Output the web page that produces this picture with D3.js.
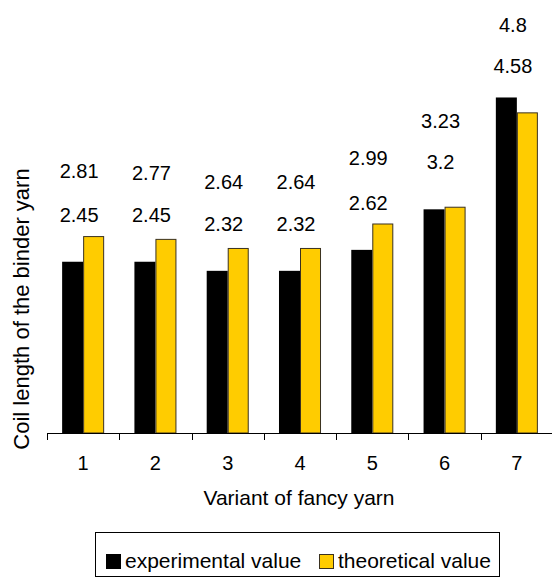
<!DOCTYPE html>
<html>
<head>
<meta charset="utf-8">
<script src="https://cdn.jsdelivr.net/npm/d3@7"></script>
<style>
  body { margin: 0; background: #fff; }
  text { font-family: "Liberation Sans", Arial, sans-serif; fill: #000; }
</style>
</head>
<body>
<script>
var w = 552;
var h = 578;

// data
var variants = ["1", "2", "3", "4", "5", "6", "7"];
var experimental = [2.45, 2.45, 2.32, 2.32, 2.62, 3.2, 4.8];
var theoretical = [2.81, 2.77, 2.64, 2.64, 2.99, 3.23, 4.58];
var seriesNames = ["experimental value", "theoretical value"];
var seriesColors = ["#000000", "#FFCC00"];

var svg = d3.select("body")
  .append("svg")
  .attr("width", w)
  .attr("height", h);

var x = d3.scaleBand()
  .domain(variants)
  .range([47, 553]);

var xs = d3.scaleBand()
  .domain([0, 1])
  .range([0, x.bandwidth()])
  .paddingOuter(0.72);

var y = d3.scaleLinear()
  .domain([0, 6])
  .range([433, 433 - 6 * 69.9]);

var groups = variants.map(function(v, i) {
  return { name: v, values: [experimental[i], theoretical[i]] };
});

var g = svg.selectAll("g.group")
  .data(groups)
  .enter().append("g")
  .attr("class", "group")
  .attr("transform", function(d) { return "translate(" + x(d.name) + ",0)"; });

g.selectAll("rect")
  .data(function(d) { return d.values; })
  .enter().append("rect")
  .attr("x", function(d, i) { return xs(i) + (i ? 0.5 : 0); })
  .attr("y", function(d) { return y(d); })
  .attr("width", function(d, i) { return xs.bandwidth() - (i ? 1 : 0); })
  .attr("height", function(d) { return y(0) - y(d); })
  .attr("fill", function(d, i) { return seriesColors[i]; })
  .attr("stroke", function(d, i) { return i ? "#3a3120" : "none"; })
  .attr("stroke-width", 1);

// data labels stacked above each pair: smaller value lower, larger value higher
function lowerY(d) { return y(d3.min(d.values)) - 47; }
function upperY(d) { return Math.min(y(d3.max(d.values)) - 66, lowerY(d) - 41); }

g.append("text")
  .attr("x", x.bandwidth() / 2 - 4)
  .attr("y", lowerY)
  .attr("dy", "0.35em")
  .attr("text-anchor", "middle")
  .attr("font-size", 20)
  .text(function(d) { return d3.min(d.values); });

g.append("text")
  .attr("x", x.bandwidth() / 2 - 4)
  .attr("y", upperY)
  .attr("dy", "0.35em")
  .attr("text-anchor", "middle")
  .attr("font-size", 20)
  .text(function(d) { return d3.max(d.values); });

// x axis: ticks sit between categories
var axis = svg.append("g").attr("class", "axis");
axis.append("line")
  .attr("x1", x.range()[0]).attr("x2", x.range()[1])
  .attr("y1", y(0) + 0.5).attr("y2", y(0) + 0.5)
  .attr("stroke", "#000");
var bounds = variants.map(function(v) { return x(v); }).concat([x.range()[1] - 1]);
axis.selectAll("line.tick")
  .data(bounds)
  .enter().append("line")
  .attr("class", "tick")
  .attr("x1", function(d) { return Math.round(d) + 0.5; })
  .attr("x2", function(d) { return Math.round(d) + 0.5; })
  .attr("y1", y(0)).attr("y2", y(0) + 7)
  .attr("stroke", "#000");
axis.selectAll("text")
  .data(variants)
  .enter().append("text")
  .attr("x", function(d) { return x(d) + x.bandwidth() / 2; })
  .attr("y", 463)
  .attr("dy", "0.35em")
  .attr("text-anchor", "middle")
  .attr("font-size", 20)
  .text(function(d) { return d; });

svg.append("text")
  .attr("x", 299)
  .attr("y", 498)
  .attr("dy", "0.35em")
  .attr("text-anchor", "middle")
  .attr("font-size", 21)
  .text("Variant of fancy yarn");

svg.append("text")
  .attr("transform", "translate(29,309) rotate(-90)")
  .attr("text-anchor", "middle")
  .attr("font-size", 22)
  .text("Coil length of the binder yarn");

// legend
var legend = svg.append("g").attr("class", "legend");
legend.append("rect")
  .attr("x", 95.5).attr("y", 532.5)
  .attr("width", 404).attr("height", 44)
  .attr("fill", "#fff").attr("stroke", "#000");

var legendX = [106, 319];
var items = legend.selectAll("g.item")
  .data(seriesNames)
  .enter().append("g")
  .attr("class", "item")
  .attr("transform", function(d, i) { return "translate(" + legendX[i] + ",561)"; });
items.append("rect")
  .attr("x", 0.5).attr("y", -6.5)
  .attr("width", 14).attr("height", 14)
  .attr("fill", function(d, i) { return seriesColors[i]; })
  .attr("stroke", function(d, i) { return i ? "#3a3120" : "#000"; });
items.append("text")
  .attr("x", 19)
  .attr("dy", "0.35em")
  .attr("font-size", 21)
  .text(function(d) { return d; });
</script>
</body>
</html>
